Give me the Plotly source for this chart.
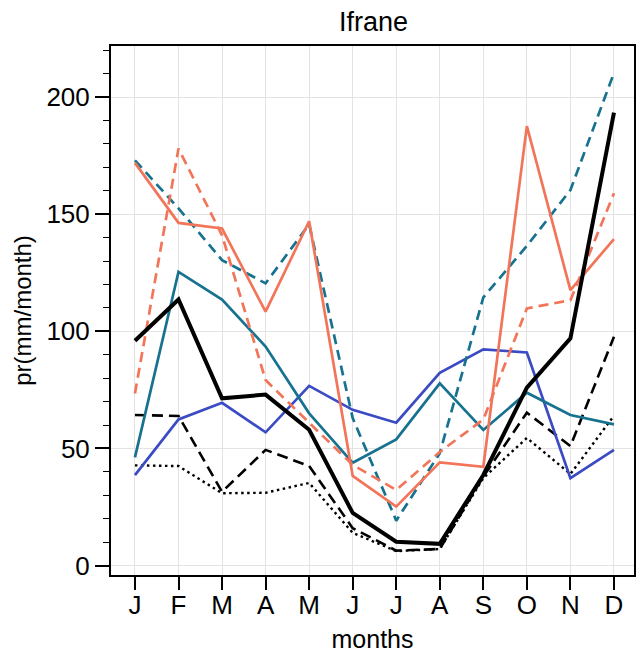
import plotly.graph_objects as go

months = ["J", "F", "M", "A", "M", "J", "J", "A", "S", "O", "N", "D"]
x_idx = list(range(12))

black_solid = [96, 113.6, 71.4, 73, 58, 22.5, 10.2, 9.3, 38.7, 76, 97, 193.4]
black_dash = [64.3, 63.9, 31.5, 49.4, 42.5, 16, 6.4, 7.1, 38, 65.3, 51, 97.7]
black_dot = [42.8, 42.5, 30.9, 31.1, 35.3, 14, 6.2, 7.1, 37.4, 54.5, 39.1, 64]
blue_solid = [38.6, 62.4, 69.5, 56.9, 76.7, 66.5, 61, 82.3, 92.3, 91, 37.3, 49.4]
teal_solid = [46.2, 125.4, 113.6, 93.5, 65, 43.9, 53.9, 77.8, 57.9, 73.8, 64.3, 60.3]
teal_dash = [173, 152.5, 130.4, 120.5, 145.7, 63, 19.2, 48, 114.5, 136.5, 160.3, 210.3]
coral_solid = [171.9, 146.3, 143.9, 108.4, 147, 38.3, 25.2, 44.1, 42.2, 187.6, 117.6, 139.4]
coral_dash = [73.5, 178, 141, 79.2, 61, 43, 32.3, 48.5, 62.4, 109.8, 113.3, 158.9]

BLUE = "#3b4bc3"
TEAL = "#177290"
CORAL = "#f2755a"

series = [
    (black_dot, "black", "2.5px,3.5px", 2.4),
    (black_dash, "black", "11px,6px", 2.6),
    (blue_solid, BLUE, "solid", 2.7),
    (teal_solid, TEAL, "solid", 2.7),
    (teal_dash, TEAL, "10px,6px", 2.7),
    (coral_dash, CORAL, "10px,6px", 2.7),
    (coral_solid, CORAL, "solid", 2.7),
    (black_solid, "black", "solid", 4),
]

fig = go.Figure()
for vals, col, dash, w in series:
    fig.add_trace(go.Scatter(x=x_idx, y=vals, mode="lines",
                             line=dict(color=col, dash=dash, width=w),
                             showlegend=False))

font = "Liberation Sans, Arial, sans-serif"
fig.update_layout(
    width=636, height=653,
    margin=dict(l=111, r=0, t=46, b=78),
    paper_bgcolor="white", plot_bgcolor="white",
    font=dict(family=font, color="black"),
    title=dict(text="Ifrane", x=(111 + 636) / 2 / 636, xanchor="center",
               y=1 - 22 / 653, yanchor="middle", font=dict(size=27)),
)
fig.update_xaxes(
    range=[-0.55, 11.46], tickmode="array", tickvals=x_idx, ticktext=months,
    ticks="outside", ticklen=13, tickwidth=1.6, tickcolor="black",
    ticklabelstandoff=-7,
    showline=True, linecolor="black", linewidth=2, mirror=True,
    showgrid=True, gridcolor="#e3e3e3", gridwidth=1,
    tickfont=dict(size=26), zeroline=False,
    title=dict(text="months", font=dict(size=25), standoff=13),
)
fig.update_yaxes(
    range=[-4, 221.8], tickvals=[0, 50, 100, 150, 200],
    ticks="outside", ticklen=14, tickwidth=1.6, tickcolor="black",
    minor=dict(dtick=10, tick0=0, ticks="outside", ticklen=6, tickwidth=1.2,
               tickcolor="black", showgrid=False),
    showline=True, linecolor="black", linewidth=2, mirror=True,
    showgrid=True, gridcolor="#e3e3e3", gridwidth=1,
    tickfont=dict(size=26), zeroline=False,
    title=dict(text="pr(mm/month)", font=dict(size=24), standoff=8),
)

fig.write_html("out.html")
